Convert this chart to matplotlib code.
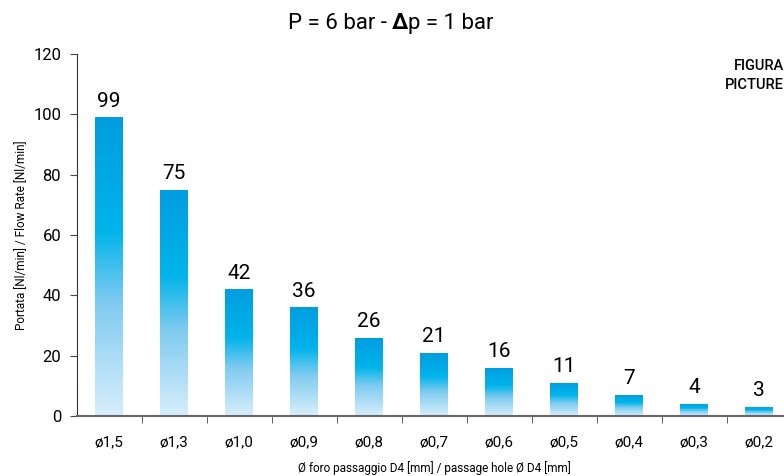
import numpy as np
import matplotlib.pyplot as plt
from matplotlib.colors import LinearSegmentedColormap

# dati
categories = ["ø1,5", "ø1,3", "ø1,0", "ø0,9", "ø0,8", "ø0,7", "ø0,6", "ø0,5", "ø0,4", "ø0,3", "ø0,2"]
flow = [99, 75, 42, 36, 26, 21, 16, 11, 7, 4, 3]
yticks = [0, 20, 40, 60, 80, 100, 120]

font = ["Liberation Sans Narrow", "Roboto", "DejaVu Sans"]
plt.rcParams["font.family"] = font

fig = plt.figure(figsize=(7.84, 4.76), dpi=100)
ax = fig.add_axes([76.5 / 784, 60 / 476, 715 / 784, 362 / 476])

cmap = LinearSegmentedColormap.from_list(
    "bars", [(0.0, "#d8eefc"), (0.38, "#7fcbf0"), (0.62, "#00b4ea"), (1.0, "#009de0")])
grad = np.linspace(0, 1, 256).reshape(-1, 1)

x = np.arange(len(categories))
w = 0.42
bars = ax.bar(x, flow, width=w, facecolor="none", edgecolor="none")
for b in bars:
    x0, y0 = b.get_x(), b.get_y()
    im = ax.imshow(grad, cmap=cmap, origin="lower", aspect="auto",
                   extent=(x0, x0 + b.get_width(), y0, y0 + b.get_height()), zorder=2)
    im.set_clip_path(b)

for xi, v in zip(x, flow):
    ax.text(xi, v + 2.2, str(v), ha="center", va="bottom", fontsize=15)

ax.set_xlim(-0.5, 10.5)
ax.set_ylim(0, 120)
ax.set_yticks(yticks)
ax.set_xticks(x)
ax.set_xticklabels(categories, fontsize=11)
ax.set_xticks(x[:-1] + 0.5, minor=True)
ax.tick_params(axis="x", which="major", length=0, pad=14)
ax.tick_params(axis="x", which="minor", length=5, direction="out", color="#444444")
ax.tick_params(axis="y", length=5, direction="out", labelsize=12, color="#444444", pad=6)

for s in ["top", "right"]:
    ax.spines[s].set_visible(False)
ax.spines["left"].set_color("#333333")
ax.spines["bottom"].set_color("#666666")
ax.spines["bottom"].set_linewidth(1.5)

ax.set_ylabel("Portata [Nl/min] / Flow Rate [Nl/min]", fontsize=8.5, labelpad=4)
ax.set_xlabel("Ø foro passaggio D4 [mm] / passage hole Ø D4 [mm]", fontsize=8.5, labelpad=8)

# titolo
t1 = fig.text(0.5, 0.94, "P = 6 bar - ", fontsize=16, ha="right", va="baseline")
t2 = fig.text(0.5, 0.94, "Δ", fontsize=16, fontweight="bold", ha="left", va="baseline")
t3 = ax.annotate("p = 1 bar", xy=(1, 0), xycoords=t2, fontsize=16, ha="left", va="bottom")

fig.text(1.0, 0.862, "FIGURA", fontsize=10.5, fontweight="medium", ha="right", va="center")
fig.text(1.0, 0.822, "PICTURE", fontsize=10.5, fontweight="medium", ha="right", va="center")

fig.savefig("out.png", dpi=100)
